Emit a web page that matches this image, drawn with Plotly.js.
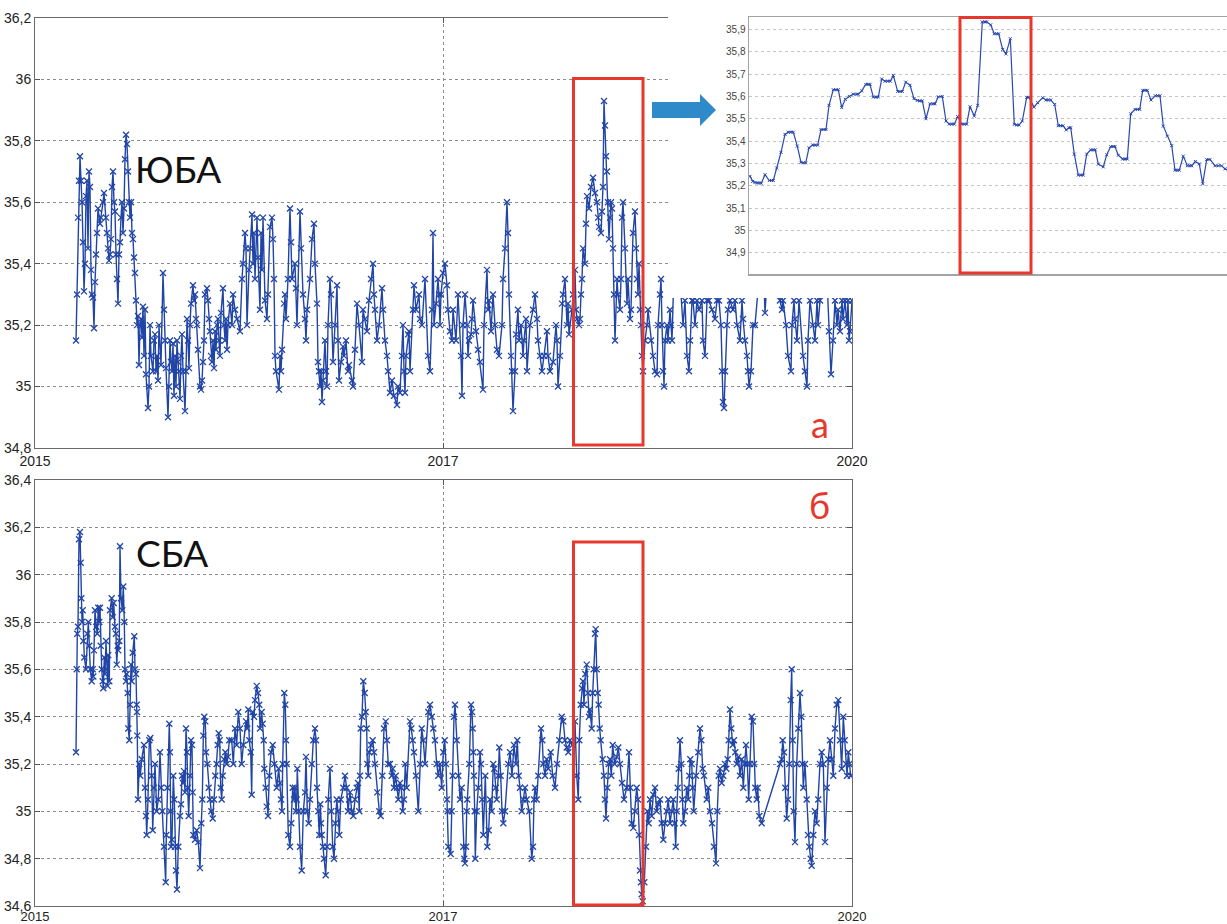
<!DOCTYPE html>
<html><head><meta charset="utf-8">
<script src="https://cdn.plot.ly/plotly-3.0.1.min.js"></script>
<style>html,body{margin:0;padding:0;background:#fff;}#chart{width:1227px;height:924px;}</style>
</head><body><div id="chart"></div>
<script>
// ---- data (time index t: 0 = 2015, 817 = 2020) ----
const tickVals = [0, 408, 817];
const tickText = ['2015', '2017', '2020'];

const topT = [41,42,43,44,45,46,47,48,49,50,51,52,53,54,55,56,57,58,59,60,61,62,63,65,66,68,69,71,72,73,74,75,76,77,78,79,80,81,82,83,84,85,86,87,88,89,90,91,92,93,94,95,96,97,98,99,100,101,102,103,104,105,106,107,108,109,110,111,113,114,115,116,118,119,120,121,122,123,124,126,128,129,130,131,133,134,135,136,137,138,139,140,141,142,143,144,145,146,147,148,150,151,152,153,154,155,156,158,159,160,161,162,163,165,166,167,168,169,170,172,173,174,175,176,177,178,179,180,181,182,183,184,185,186,188,189,190,191,192,193,195,197,198,200,202,205,207,208,210,211,212,214,215,217,218,219,220,222,223,225,226,227,228,230,232,233,235,237,238,239,240,241,244,245,246,247,249,250,251,253,255,256,257,260,261,262,265,266,268,270,271,272,275,277,279,280,282,283,284,285,286,287,288,290,291,292,293,295,296,298,300,302,303,304,306,308,309,311,313,314,317,318,320,322,324,327,328,330,332,334,336,338,339,340,342,344,347,348,350,352,353,355,357,359,362,363,365,367,368,369,370,371,373,374,375,378,379,381,384,385,387,390,393,395,397,398,399,401,403,404,405,406,408,410,412,413,415,417,418,421,423,426,427,428,430,432,433,434,436,437,438,441,443,445,448,449,452,453,454,456,458,460,462,464,467,468,470,472,473,474,476,477,478,480,481,483,484,486,488,489,491,492,495,498,500,502,503,505,507,509,512,513,515,518,521,522,523,525,527,528,530,532,533,534,537,538,540,541,542,544,545,546,547,548,550,551,552,554,556,558,560,562,563,564,566,567,568,569,570,571,572,573,574,575,576,577,578,579,580,582,583,585,586,587,588,590,592,593,595,596,598,600,601,602,603,604,605,606,607,608,610,612,613,616,618,620,622,623,625,626,627,628,629,630,632,633,635,636,637,639,642,645,648,650,652,654,655,657,658,660,662,664,667,668,670,672,674,677,680,682,684,686,687,688,689,690,692,693,695,698,700,702,705,707,708,710,712,713,714,716,718,720,724,728,730,733,737,741,745,747,748,751,753,756,757,759,760,762,764,768,770,772,773,775,778,780,782,783,785,788,792,794,796,798,800,802,803,805,807,808,810,812,813,814,815,817];
const topSal = [35.15,35.3,35.55,35.67,35.75,35.67,35.6,35.47,35.31,35.4,35.62,35.67,35.45,35.7,35.65,35.38,35.3,35.29,35.19,35.34,35.43,35.5,35.58,35.53,35.55,35.6,35.63,35.55,35.5,35.45,35.41,35.43,35.48,35.65,35.7,35.6,35.57,35.43,35.35,35.27,35.43,35.47,35.55,35.6,35.5,35.58,35.74,35.82,35.79,35.7,35.6,35.55,35.6,35.5,35.48,35.42,35.37,35.28,35.2,35.23,35.07,35.2,35.22,35.16,35.26,35.1,35.25,35.04,34.93,35.0,35.2,35.1,35.05,35.15,35.17,35.05,35.1,35.02,35.2,35.07,35.37,35.25,35.15,35.06,34.9,35.0,35.15,35.08,35.05,35.14,34.97,35.1,35.0,35.15,35.08,35.05,34.96,35.1,35.17,35.05,34.92,35.05,35.22,35.15,35.06,35.2,35.27,35.33,35.28,35.3,35.22,35.2,35.12,35.0,34.99,35.02,35.08,35.15,35.3,35.32,35.28,35.22,35.18,35.1,35.08,35.15,35.06,35.18,35.12,35.2,35.22,35.15,35.1,35.24,35.32,35.2,35.15,35.22,35.12,35.2,35.27,35.2,35.3,35.25,35.22,35.18,35.35,35.4,35.5,35.45,35.2,35.38,35.45,35.56,35.4,35.5,35.35,35.55,35.42,35.25,35.5,35.38,35.55,35.28,35.22,35.3,35.52,35.55,35.48,35.35,35.1,35.05,34.99,35.1,35.05,35.12,35.27,35.3,35.22,35.35,35.58,35.47,35.35,35.4,35.32,35.2,35.57,35.45,35.3,35.22,35.15,35.25,35.35,35.48,35.53,35.4,35.27,35.08,35.05,35.0,35.05,34.95,35.02,35.15,35.05,35.0,35.2,35.35,35.3,35.08,35.2,35.33,35.15,35.02,35.08,35.13,35.1,35.15,35.05,35.07,35.02,35.0,35.12,35.27,35.2,35.08,35.25,35.22,35.18,35.28,35.35,35.4,35.3,35.25,35.15,35.2,35.32,35.25,35.15,35.1,35.05,34.98,35.02,34.97,34.94,35.0,34.98,35.1,35.2,35.05,34.98,35.1,35.17,35.18,35.05,35.25,35.33,35.25,35.3,35.22,35.2,35.35,35.1,35.05,35.25,35.5,35.2,35.27,35.35,35.3,35.2,35.3,35.37,35.4,35.33,35.25,35.18,35.15,35.25,35.15,35.3,35.1,34.97,35.2,35.3,35.2,35.1,35.15,35.17,35.22,35.28,35.18,35.12,35.08,34.99,35.2,35.38,35.25,35.28,35.18,35.3,35.2,35.12,35.1,35.2,35.35,35.45,35.6,35.5,35.3,35.1,35.05,34.92,35.05,35.17,35.25,35.15,35.2,35.1,35.15,35.22,35.05,35.2,35.25,35.3,35.22,35.15,35.1,35.05,35.1,35.18,35.1,35.05,35.08,35.2,35.15,35.0,35.1,35.27,35.3,35.35,35.2,35.27,35.17,35.25,35.3,35.38,35.25,35.22,35.2,35.22,35.3,35.35,35.45,35.4,35.53,35.62,35.58,35.65,35.68,35.63,35.6,35.55,35.52,35.5,35.57,35.65,35.93,35.85,35.75,35.7,35.6,35.48,35.55,35.6,35.58,35.45,35.3,35.15,35.35,35.3,35.25,35.35,35.55,35.6,35.45,35.27,35.35,35.22,35.25,35.5,35.57,35.45,35.35,35.3,35.4,35.25,35.2,35.1,35.05,35.15,35.2,35.25,35.15,35.1,35.05,35.04,35.2,35.3,35.35,35.2,35.05,35.0,35.15,35.2,35.15,35.25,35.2,35.15,35.38,35.42,35.35,35.2,35.28,35.1,35.05,35.15,35.28,35.28,35.2,35.28,35.25,35.28,35.15,35.1,35.28,35.28,35.25,35.22,35.28,35.28,35.2,35.05,34.95,34.93,35.05,35.2,35.25,35.28,35.25,35.28,35.2,35.15,35.28,35.22,35.15,35.1,35.05,35.0,35.05,35.2,35.2,35.35,35.45,35.24,35.4,35.5,35.4,35.28,35.25,35.28,35.2,35.1,35.05,35.2,35.28,35.22,35.15,35.28,35.1,35.05,35.0,35.15,35.28,35.2,35.15,35.28,35.2,35.28,35.4,35.35,35.18,35.04,35.15,35.28,35.2,35.25,35.18,35.28,35.22,35.28,35.2,35.28,35.15,35.18,35.28];

const botT = [41,41.7,42.3,43,44,45,45.7,46.3,47,47.7,48.3,49.3,51,52.3,53.3,54.3,55.3,56.7,57.7,58.3,59,60,61.3,62.3,63.3,64.3,65,65.7,66.7,67.7,68.3,69.3,70,71,71.7,72.7,73.3,74.3,75,76.7,77.7,78.7,80,81,81.7,82.7,83.3,84.3,85,86,87.3,88.3,89.3,90,91,91.7,92.7,93.3,94.3,95,96,96.7,97.7,99.3,100,101,101.7,102,102.3,103,104.3,105.3,106.7,109,110,111,111.7,113,114.3,115.3,116.7,117.7,118.7,120,121.7,123.3,125,126,127.3,129,130.7,131.3,132.3,134.3,135,135.3,136,137,138.3,139.3,140,141,142,143.3,145,146,147,148,149,150,151,152,152.7,153.7,155,156,157,157.7,158.3,160,161.7,163.3,165,166.3,167.3,168.3,169.3,170.3,171,172.3,173.7,175,176.3,177.7,179,180.3,181.7,182.7,183.7,184.7,185.7,186.7,187.7,189,190.3,191.7,193,194.3,196.7,198.3,200,201.7,203.3,205,206.7,208.3,211,212.3,213.3,214.3,215.7,216.7,217.7,219,220,221.7,223,224.3,225,226.7,227.7,228.7,229.3,230.7,231.7,233,234.3,236,237.7,239.3,241.7,243.7,245,246,247,247.7,249.3,250.3,251,251.7,253.3,255,256.3,257.7,259,260,261,261.7,262.3,263.7,265,266.7,268.3,270,271,272.3,273.7,275,276.7,278.3,280,281,282,283.3,284.3,285.3,286,286.7,288,289,290.7,292,293.3,295,296.3,297.7,299,300.3,301.7,303,304.3,305.7,308.3,310,311.7,313,314,315,316.7,318.3,320,321.7,323,324.3,325,325.7,327,328.3,329.7,330.7,331.7,332.3,333.3,334.3,336,337.7,339,340,342.3,344.3,345.7,347.3,349,350.7,352,353.3,355,356.7,357.7,359,360.7,362,363.3,365,366.3,367.7,369,370.3,371.7,375,376.3,377.7,379,381,383.3,385,386.7,388.3,390,393.3,395,396.7,398.3,400,401.7,403.3,405,406.7,408.3,409.7,411,412,412.7,413.3,415.7,416.7,417.7,419,420,421.7,423.3,425,426.7,428.3,429.3,430,431,431.7,432.3,434.3,436,437,437.7,438.3,439,439.7,440.3,441.7,443.3,445,446,447,448.3,450.3,452.3,453.7,455,456.7,458.3,459.3,460.7,461.7,463.3,464.3,465.7,467,468.3,470,473.3,475,477,479,481,482.3,483.7,485,486.7,488.3,490,491.7,494.3,496.7,498,499,500,501.7,503.3,506,507.3,508.3,510,511.7,513.3,515.7,517.7,520,522,524.3,526.7,528.3,530,531.7,533.3,535,537.3,540,541.7,543.3,544.3,545.7,547,548,549,550.3,551.7,553,554,555,556.7,557.7,558.7,560,560.7,561.7,562.7,563.7,564.7,565.7,567.7,569,570,571,572.3,573.7,575,576.3,577.7,579.7,581.7,583.3,585,587,589,591.7,594,595.3,596.7,598.3,600,601.7,603,604,605,606,606.7,607.7,609.3,611,612.3,613.7,615,616.7,618.3,620,621.7,623.3,625,626.7,628.3,630,631.7,633.3,635,636.7,638.3,639.7,640.7,641.7,642.7,643.7,645,646.3,647.3,648.3,650,651.7,653.3,654.3,655.3,656.7,657.7,658.7,661,663.3,665,666.3,667.7,669,671.7,673.3,675,677,679,681,682.3,683.7,685,686.7,688.3,690,691.3,692.7,693.7,695,696.3,697.7,699,700.3,701.7,703.3,705,706.7,708.3,709.7,711,712.3,713.7,715,716.7,718,719,720.3,721.7,722.7,724.3,726.7,745,746.7,747.7,749,750.3,751.7,753,754.3,755.7,756.7,757.7,758.7,760,761.7,763.3,765,766.3,767.3,768.3,770,771.7,773,774.3,775.7,776.7,778.3,780,781.7,783.3,785,786.7,788.3,790,791.7,793.3,795,796.7,798.3,800,801.7,803.3,805,806.7,808.3,809.7,811,812,813.3,814.3,815.7];
const botSal = [35.25,35.6,35.75,35.78,36.15,36.18,36.05,35.9,35.8,35.85,35.72,35.65,35.6,35.75,35.8,35.7,35.6,35.55,35.6,35.57,35.68,35.85,35.78,35.75,35.86,35.8,35.86,35.7,35.6,35.55,35.52,35.65,35.58,35.72,35.6,35.53,35.66,35.55,35.85,35.9,35.82,35.88,35.78,35.75,35.62,35.7,35.68,35.72,36.12,35.9,35.85,35.95,35.8,35.6,35.55,35.58,35.5,35.35,35.3,35.45,35.62,35.55,35.67,35.74,35.6,35.58,35.45,35.42,35.32,35.05,35.2,35.15,35.22,35.28,35.1,34.98,34.9,35.05,35.3,35.31,35.15,34.92,35.1,35.2,35.0,35.05,35.25,35.1,35.0,34.85,34.7,34.9,35.1,35.37,35.25,35.0,34.85,34.88,35.15,35.05,34.85,34.75,34.67,34.85,34.98,35.03,35.15,35.12,35.17,35.08,35.35,35.25,35.1,34.98,35.15,35.3,35.28,35.08,34.9,34.88,34.92,34.87,34.76,34.95,35.05,35.32,35.4,35.38,35.25,35.2,35.1,35.05,35.0,34.97,35.05,35.15,35.2,35.28,35.33,35.3,35.1,35.05,35.15,35.22,35.25,35.2,35.23,35.3,35.3,35.2,35.35,35.28,35.42,35.35,35.2,35.28,35.38,35.35,35.43,35.3,35.25,35.07,35.42,35.4,35.47,35.53,35.5,35.45,35.35,35.42,35.37,35.3,35.18,35.1,35.02,34.98,35.15,35.25,35.28,35.2,35.1,35.18,35.12,35.05,35.0,35.2,35.5,35.45,35.3,35.2,34.9,34.85,34.95,35.1,35.05,35.1,35.0,35.05,35.18,35.0,34.85,34.75,35.0,35.08,35.23,35.0,34.95,35.05,35.2,35.3,35.35,35.3,35.1,35.0,34.9,35.03,34.95,34.9,34.85,34.8,34.73,34.85,35.05,35.18,35.0,34.85,34.8,34.95,35.05,35.0,34.9,35.05,35.1,35.15,35.1,35.0,35.05,35.08,35.0,34.98,35.05,35.1,35.12,35.0,35.15,35.35,35.4,35.55,35.5,35.42,35.35,35.2,35.15,35.25,35.28,35.3,35.25,35.2,35.08,35.0,34.98,35.15,35.35,35.38,35.3,35.2,35.2,35.15,35.18,35.1,35.15,35.1,35.05,35.12,35.1,35.0,35.05,35.2,35.1,35.38,35.35,35.3,35.25,35.15,35.0,35.2,35.35,35.3,35.2,35.42,35.45,35.4,35.35,35.3,35.2,35.15,35.2,35.1,35.25,35.3,35.2,35.05,35.0,34.85,34.82,35.0,35.15,35.4,35.45,35.3,35.15,35.05,35.1,34.85,34.8,34.78,34.85,35.0,35.05,35.2,35.45,35.42,35.35,35.25,35.15,35.0,34.8,35.0,35.1,35.25,35.2,35.05,34.9,35.15,34.85,34.92,35.05,35.0,35.2,35.18,35.1,35.05,35.15,35.27,35.15,35.0,34.95,35.0,35.2,35.25,35.15,35.28,35.2,35.3,35.15,35.1,35.0,35.05,35.1,35.05,35.0,34.8,34.85,35.05,35.1,35.05,35.15,35.35,35.3,35.2,35.15,35.22,35.18,35.25,35.15,35.1,35.2,35.3,35.4,35.38,35.3,35.27,35.25,35.3,35.28,35.38,35.15,35.05,35.3,35.45,35.52,35.55,35.45,35.58,35.62,35.5,35.4,35.43,35.35,35.5,35.6,35.75,35.77,35.6,35.5,35.45,35.35,35.3,35.22,35.15,35.05,34.97,35.1,35.2,35.22,35.15,35.28,35.2,35.23,35.27,35.2,35.12,35.05,35.1,35.25,35.1,34.95,34.93,35.0,35.1,35.05,34.9,34.75,34.7,34.65,34.62,34.7,34.85,35.0,34.95,35.05,34.98,35.07,35.1,35.0,35.03,35.05,34.95,34.88,34.95,35.0,35.05,34.95,35.0,35.05,34.95,34.85,35.0,35.1,35.18,35.3,35.2,35.05,34.95,35.0,35.1,35.05,35.15,35.22,35.2,35.1,35.0,35.15,35.25,35.35,35.3,35.18,35.15,35.05,35.1,35.0,34.95,34.85,34.78,35.0,35.15,35.18,35.12,35.15,35.2,35.18,35.22,35.3,35.43,35.35,35.28,35.3,35.25,35.2,35.23,35.15,35.22,35.1,35.2,35.28,35.2,35.05,35.2,35.4,35.38,35.2,35.1,35.05,35.1,34.98,34.95,35.2,35.22,35.3,35.25,35.1,34.97,35.05,35.2,35.47,35.6,35.3,35.0,34.87,35.2,35.35,35.5,35.4,35.2,35.1,35.2,35.05,34.9,34.85,34.8,34.77,34.9,35.0,34.95,35.05,35.2,35.25,35.2,34.87,35.1,35.22,35.3,35.22,35.15,35.35,35.45,35.47,35.3,35.18,35.4,35.3,35.2,35.15,35.25,35.2,35.15];

const insetT = [1,3.7,6,8.3,10.3,12.3,16,20.3,22.7,24.3,27.7,32,36,39.3,41.7,44.3,48.3,52,54.3,56.7,60,63.7,66,68.7,72,75,77,80,84.3,87,89.3,92.7,96.3,100.3,104.3,107.7,109.3,112.7,116.7,119.3,121,124.3,127,129.3,132.7,136,138.7,141.3,144.3,148.7,151,153.3,156.7,161,165,168.3,171,173.3,177,181,184.3,186,189.3,193.3,197,200.3,202.7,205.3,208.7,212.7,215.3,217.7,221,225.3,228.7,233.3,236,237.7,241.7,245.3,247.7,249.7,253.7,257,261.3,265.3,267.7,270,273.3,277.7,280,285,288.7,293.7,297,299.3,301.7,305.7,309.3,311.7,314,317.3,320,321.7,325.3,329.3,332,334.3,337.7,341.7,344.3,346.3,349.3,354.3,357.7,361.7,364.3,366,369.3,373.7,376,378.3,381.7,386,388.7,390.7,393.7,396,398.3,402,406.3,408.7,411,414.3,418.3,422.7,426,428.3,430.3,434.3,438.3,441,442.7,446.3,450.3,453.7,457.7,461,466,469.3,472.7,476,480];
const insetSal = [35.243,35.22,35.215,35.213,35.213,35.212,35.25,35.224,35.224,35.224,35.28,35.35,35.43,35.44,35.44,35.44,35.378,35.305,35.303,35.303,35.37,35.383,35.382,35.382,35.452,35.452,35.452,35.56,35.63,35.63,35.63,35.55,35.587,35.6,35.61,35.61,35.61,35.625,35.654,35.654,35.654,35.597,35.597,35.597,35.678,35.668,35.668,35.668,35.694,35.622,35.622,35.622,35.664,35.65,35.59,35.582,35.58,35.58,35.5,35.567,35.567,35.567,35.598,35.6,35.49,35.476,35.476,35.476,35.51,35.476,35.476,35.476,35.554,35.512,35.56,35.933,35.933,35.933,35.92,35.88,35.88,35.88,35.81,35.79,35.858,35.475,35.472,35.472,35.49,35.596,35.596,35.552,35.572,35.594,35.584,35.584,35.584,35.564,35.469,35.469,35.469,35.45,35.46,35.46,35.342,35.248,35.248,35.248,35.342,35.361,35.361,35.361,35.297,35.285,35.339,35.376,35.376,35.376,35.337,35.32,35.32,35.32,35.522,35.542,35.542,35.542,35.627,35.627,35.627,35.584,35.603,35.603,35.603,35.467,35.422,35.38,35.27,35.27,35.27,35.333,35.29,35.29,35.29,35.309,35.298,35.209,35.318,35.318,35.29,35.29,35.29,35.276,35.27];
const insetTicks = [34.9,35.0,35.1,35.2,35.3,35.4,35.5,35.6,35.7,35.8,35.9];

// ---- layout helpers ----
const W = 1227, H = 924;
const fx = v => v / W;
const fy = v => 1 - v / H;
const BLUE = '#2145a6';
const RED = '#e8382d';
const tickFont = {family: 'Liberation Sans, Arial, sans-serif', size: 14, color: '#222'};

function mainX(dom, anchor, font, standoff) {
  return {domain: dom, anchor: anchor, range: [0, 817], tickvals: tickVals, ticktext: tickText,
    showgrid: true, gridcolor: '#8c8c8c', griddash: 'dot', gridwidth: 1, zeroline: false,
    showline: true, linecolor: '#6a6a6a', linewidth: 1, mirror: 'ticks', ticks: 'inside', ticklen: 5,
    tickcolor: '#555', tickfont: font, ticklabelstandoff: standoff, fixedrange: true};
}
function mainY(dom, anchor, r) {
  return {domain: dom, anchor: anchor, range: r, tick0: 34, dtick: 0.2,
    showgrid: true, gridcolor: '#8c8c8c', griddash: 'dot', gridwidth: 1, zeroline: false,
    showline: true, linecolor: '#6a6a6a', linewidth: 1, mirror: 'ticks', ticks: 'inside', ticklen: 5,
    tickcolor: '#555', tickfont: tickFont, fixedrange: true};
}

const mainLine = {color: BLUE, width: 1.4};
const mainMarker = {symbol: 'x-thin', size: 6, color: BLUE, line: {color: BLUE, width: 1.3}};

const traces = [
  {x: topT, y: topSal, xaxis: 'x', yaxis: 'y', type: 'scatter', mode: 'lines+markers', line: mainLine, marker: mainMarker, hoverinfo: 'x+y'},
  {x: botT, y: botSal, xaxis: 'x2', yaxis: 'y2', type: 'scatter', mode: 'lines+markers', line: mainLine, marker: mainMarker, hoverinfo: 'x+y'},
  {x: [], y: [], xaxis: 'x3', yaxis: 'y3', type: 'scatter', mode: 'lines', hoverinfo: 'skip'},
  {x: insetT, y: insetSal, xaxis: 'x4', yaxis: 'y4', type: 'scatter', mode: 'lines+markers',
    line: {color: '#2a49b0', width: 1.2}, marker: {symbol: 'x-thin', size: 3, color: '#2a49b0', line: {color: '#2a49b0', width: 1}}, hoverinfo: 'x+y'}
];

const layout = {
  width: W, height: H, margin: {l: 0, r: 0, t: 0, b: 0}, showlegend: false,
  paper_bgcolor: '#fff', plot_bgcolor: '#fff', separators: ', ',
  font: {family: 'Liberation Sans, Arial, sans-serif', color: '#222'},
  xaxis: mainX([fx(35), fx(852)], 'y', tickFont, 0),
  yaxis: mainY([fy(448), fy(18)], 'x', [34.8, 36.2]),
  xaxis2: mainX([fx(35), fx(852)], 'y2', {family: 'Liberation Sans, Arial, sans-serif', size: 13, color: '#222'}, -2),
  yaxis2: mainY([fy(906), fy(480)], 'x2', [34.6, 36.4]),
  // white panel behind the zoomed inset (covers the corner of the upper chart)
  xaxis3: {domain: [fx(668), 1], anchor: 'y3', range: [0, 1], visible: false, fixedrange: true},
  yaxis3: {domain: [fy(298), 1], anchor: 'x3', range: [0, 1], visible: false, fixedrange: true},
  // inset
  xaxis4: {domain: [fx(749), 1], anchor: 'y4', range: [0, 478], showgrid: false, zeroline: false,
    showticklabels: false, ticks: '', showline: true, linecolor: '#a3a3a3', linewidth: 1.5, mirror: true, fixedrange: true},
  yaxis4: {domain: [fy(274), fy(17)], anchor: 'x4', range: [34.806, 35.955], tickvals: insetTicks,
    showgrid: true, gridcolor: '#c4c4c4', griddash: 'dot', zeroline: false, ticks: '',
    showline: true, linecolor: '#a3a3a3', linewidth: 1.5, mirror: false,
    tickfont: {family: 'Liberation Sans, Arial, sans-serif', size: 10, color: '#444'}, fixedrange: true},
  shapes: [
    {type: 'rect', xref: 'paper', yref: 'paper', x0: fx(573.5), x1: fx(643), y0: fy(445), y1: fy(78.5),
      line: {color: RED, width: 3}, layer: 'above'},
    {type: 'rect', xref: 'paper', yref: 'paper', x0: fx(573.5), x1: fx(643), y0: fy(905), y1: fy(542),
      line: {color: RED, width: 3}, layer: 'above'},
    {type: 'rect', xref: 'paper', yref: 'paper', x0: fx(960), x1: fx(1031), y0: fy(273), y1: fy(17.5),
      line: {color: RED, width: 3}, layer: 'above'},
    {type: 'path', xref: 'paper', yref: 'paper', layer: 'above', fillcolor: '#2e8ac8', line: {width: 0},
      path: 'M ' + fx(652) + ' ' + fy(102) + ' L ' + fx(700) + ' ' + fy(102) + ' L ' + fx(700) + ' ' + fy(94) +
            ' L ' + fx(716) + ' ' + fy(110) + ' L ' + fx(700) + ' ' + fy(126) + ' L ' + fx(700) + ' ' + fy(118) +
            ' L ' + fx(652) + ' ' + fy(118) + ' Z'}
  ],
  annotations: [
    {text: 'ЮБА', xref: 'paper', yref: 'paper', x: fx(133), y: fy(168), xanchor: 'left', yanchor: 'middle',
      showarrow: false, font: {family: 'Lato, Noto Sans, sans-serif', size: 37, color: '#111'}},
    {text: 'СБА', xref: 'paper', yref: 'paper', x: fx(134), y: fy(552), xanchor: 'left', yanchor: 'middle',
      showarrow: false, font: {family: 'Lato, Noto Sans, sans-serif', size: 37, color: '#111'}},
    {text: 'а', xref: 'paper', yref: 'paper', x: fx(820), y: fy(424), xanchor: 'center', yanchor: 'middle',
      showarrow: false, font: {family: 'Lato, Noto Sans, sans-serif', size: 36, color: RED}},
    {text: 'б', xref: 'paper', yref: 'paper', x: fx(819), y: fy(505), xanchor: 'center', yanchor: 'middle',
      showarrow: false, font: {family: 'Lato, Noto Sans, sans-serif', size: 36, color: RED}}
  ]
};

Plotly.newPlot('chart', traces, layout, {displayModeBar: false, staticPlot: true});
</script>
</body></html>
